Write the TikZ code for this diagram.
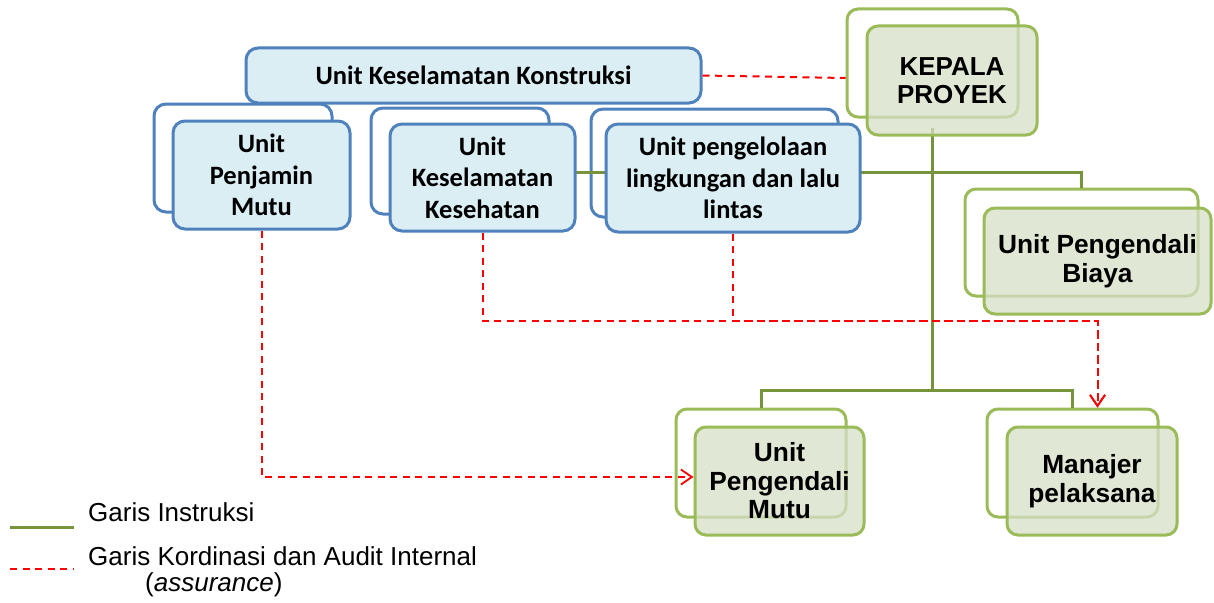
\documentclass[tikz,border=0pt]{standalone}
\usepackage{fontspec}
\usetikzlibrary{arrows.meta,calc}
\newfontfamily\calib{Carlito}
\newfontfamily\arialf{Liberation Sans}
\definecolor{bordblue}{RGB}{79,129,189}
\definecolor{fillblue}{RGB}{219,238,244}
\definecolor{bordgreen}{RGB}{155,187,89}
\definecolor{fillgreen}{RGB}{214,223,199}
\definecolor{linegreen}{RGB}{119,147,60}
\definecolor{redline}{RGB}{255,0,0}
\tikzset{
  boxbase/.style={line width=3pt, rounded corners=12pt, inner sep=0pt, align=center},
  blueback/.style={boxbase, draw=bordblue, fill=white},
  bluefront/.style={boxbase, draw=bordblue, fill=fillblue, font=\calib\bfseries\fontsize{26.5}{31.5}\selectfont},
  greenback/.style={boxbase, draw=bordgreen, fill=white, rounded corners=11pt},
  greenfront/.style={boxbase, draw=bordgreen, fill=fillgreen, fill opacity=0.75, text opacity=1, rounded corners=11pt, font=\arialf\bfseries\fontsize{26.3}{28.5}\selectfont},
  instr/.style={draw=linegreen, line width=3pt},
  coord/.style={draw=redline, line width=2pt, dash pattern=on 7pt off 5.5pt},
  coordarrow/.style={coord, -{Straight Barb[length=11pt,width=15pt,line width=1.8pt]}, shorten >=0pt},
  legendtext/.style={anchor=west, inner sep=0pt, font=\arialf\fontsize{26}{30}\selectfont}
}
\begin{document}
\begin{tikzpicture}[x=1pt,y=-1pt]
\useasboundingbox (0,0) rectangle (1214,602);
% back boxes
\node[blueback, minimum width=178pt, minimum height=108pt] (pjb) at (243,158) {};
\node[blueback, minimum width=178pt, minimum height=106pt] (ksb) at (460,161) {};
\node[blueback, minimum width=247pt, minimum height=108pt] (pgb) at (714.5,163) {};
\node[greenback, minimum width=171pt, minimum height=108pt] (kpb) at (932.5,63) {};
\node[greenback, minimum width=233pt, minimum height=107pt] (bib) at (1081.5,242.5) {};
\node[greenback, minimum width=170pt, minimum height=108pt] (pmb) at (761,463) {};
\node[greenback, minimum width=171pt, minimum height=108pt] (mjb) at (1072.5,463) {};
% instruction lines
\coordinate (hub) at (932.5,172);
\coordinate (hubtwo) at (932.5,390);
\draw[instr] (hub -| ksb.east) -- (hub -| bib.north) -- (bib.north);
\draw[instr] ([yshift=-9pt]kpb.south) -- (hubtwo);
\draw[instr] (pmb.north) -- (pmb.north |- hubtwo) -- (mjb.north |- hubtwo) -- (mjb.north);
% front boxes
\node[bluefront, minimum width=455pt, minimum height=55pt] (top) at (473.5,75.5) {Unit Keselamatan Konstruksi};
\node[bluefront, minimum width=177pt, minimum height=108pt] (pjf) at (261.5,175) {Unit\\Penjamin\\Mutu};
\node[bluefront, minimum width=185pt, minimum height=107pt] (ksf) at (482.5,177.5) {Unit\\Keselamatan\\Kesehatan};
\node[bluefront, minimum width=254pt, minimum height=108pt] (pgf) at (733,178) {Unit pengelolaan\\lingkungan dan lalu\\lintas};
\node[greenfront, minimum width=170pt, minimum height=109pt, font=\arialf\bfseries\fontsize{26}{28.5}\selectfont] (kpf) at (952,80.5) {KEPALA\\PROYEK};
\node[greenfront, minimum width=227pt, minimum height=106pt] (bif) at (1097.5,261) {Unit Pengendali\\Biaya};
\node[greenfront, minimum width=169pt, minimum height=108pt] (pmf) at (779.5,481) {Unit\\Pengendali\\Mutu};
\node[greenfront, minimum width=170pt, minimum height=108pt] (mjf) at (1092,481) {Manajer\\pelaksana};
% coordination lines
\coordinate (redrow) at (0,321);
\draw[coord] (top.east) -- ([yshift=-15pt]kpb.west);
\draw[coordarrow] (pjf.south) |- ([yshift=4pt]pmf.west);
\draw[coordarrow] (ksf.south) -- (ksf.south |- redrow) -| ([xshift=25pt]mjb.north);
\draw[coordarrow] (pgf.south) -- (pgf.south |- redrow) -| ([xshift=25pt]mjb.north);
% legend
\coordinate (lga) at (10,527);
\coordinate (lgb) at (74,527);
\coordinate (lgc) at (10,569);
\coordinate (lgd) at (74,569);
\draw[instr] (lga) -- (lgb);
\draw[coord] (lgc) -- (lgd);
\node[legendtext] (lgt1) at (88,512) {Garis Instruksi};
\node[legendtext] (lgt2) at (88,556) {Garis Kordinasi dan Audit Internal};
\node[legendtext] (lgt3) at (145,585) {(\textit{assurance})};
\end{tikzpicture}
\end{document}
